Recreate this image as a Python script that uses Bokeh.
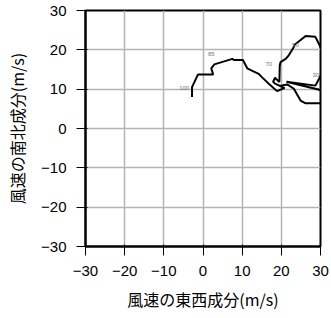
from bokeh.plotting import figure
from bokeh.models import Range1d, FixedTicker, ColumnDataSource
from bokeh.core.properties import value
from bokeh.embed import file_html
from bokeh.resources import INLINE

# hodograph path (u, v) in m/s
u = [-2.8, -2.8, -1.3, 2.6, 2.1, 2.9, 7.5, 7.9, 10.2, 11.3, 14.2, 15.1, 16.8,
     18.9, 20.8, 18.4, 17.9, 18.4, 19.5, 19.6, 19.8, 21.1, 21.9, 23.2, 23.4,
     26.2, 28.7, 29.8, 31.0, 31.0, 30.4, 28.7, 21.3, 32.0, 32.0, 30.4, 26.2,
     24.9, 23.2, 21.5, 19.8]
v = [8.0, 10.5, 13.7, 13.7, 15.3, 16.3, 17.7, 17.4, 17.4, 15.3, 13.9, 13.0, 11.4,
     9.5, 10.3, 11.4, 11.9, 12.9, 11.8, 16.0, 16.9, 17.7, 18.6, 20.7, 21.3,
     23.5, 23.3, 21.1, 18.0, 15.0, 14.1, 10.9, 11.9, 9.3, 6.4, 6.4, 6.4,
     7.1, 10.1, 11.2, 10.9]

# pressure labels (x10 hPa)
lab_text = ["100", "85", "70", "50", "30"]
lab_u = [-4.8, 2.1, 16.8, 23.6, 28.8]
lab_v = [10.2, 18.9, 16.3, 21.2, 13.7]

ticks = [-30, -20, -10, 0, 10, 20, 30]
tick_labels = {t: (str(t).replace("-", "\u2212")) for t in ticks}

p = figure(width=331, height=318, output_backend="svg", toolbar_location=None,
           x_range=Range1d(-30, 30), y_range=Range1d(-30, 30),
           min_border_left=85, min_border_right=11, min_border_top=10,
           min_border_bottom=72)
p.background_fill_color = "white"
p.border_fill_color = "white"
p.outline_line_color = "black"
p.outline_line_width = 2

for ax in (p.xaxis[0], p.yaxis[0]):
    ax.ticker = FixedTicker(ticks=ticks)
    ax.major_label_overrides = tick_labels
    ax.minor_tick_line_color = None
    ax.major_tick_out = 9
    ax.major_tick_in = 2
    ax.major_tick_line_color = "black"
    ax.major_tick_line_width = 1
    ax.axis_line_color = "black"
    ax.axis_line_width = 2
    ax.major_label_text_font = "Liberation Sans"
    ax.major_label_text_font_size = "15px"
    ax.major_label_text_color = "black"
    ax.major_label_standoff = 10
    ax.axis_label_text_font = "Noto Sans CJK JP"
    ax.axis_label_text_font_size = "16px"
    ax.axis_label_text_font_style = "normal"
    ax.axis_label_text_color = "black"

p.xaxis[0].axis_label = "風速の東西成分(m/s)"
p.yaxis[0].axis_label = "風速の南北成分(m/s)"
p.xaxis[0].axis_label_standoff = 8
p.yaxis[0].axis_label_standoff = 9
p.yaxis[0].major_label_orientation = "horizontal"

for g in (p.xgrid[0], p.ygrid[0]):
    g.ticker = FixedTicker(ticks=ticks)
    g.grid_line_color = "#b4b4b4"
    g.grid_line_width = 1.5

p.line(u, v, line_color="black", line_width=2)

src = ColumnDataSource(dict(x=lab_u, y=lab_v, t=lab_text))
p.text(x="x", y="y", text="t", source=src, text_font=value("Liberation Sans"),
       text_font_size="6px", text_color="#777777", text_align="center",
       text_baseline="middle")

open("out.html", "w").write(file_html(p, INLINE))
